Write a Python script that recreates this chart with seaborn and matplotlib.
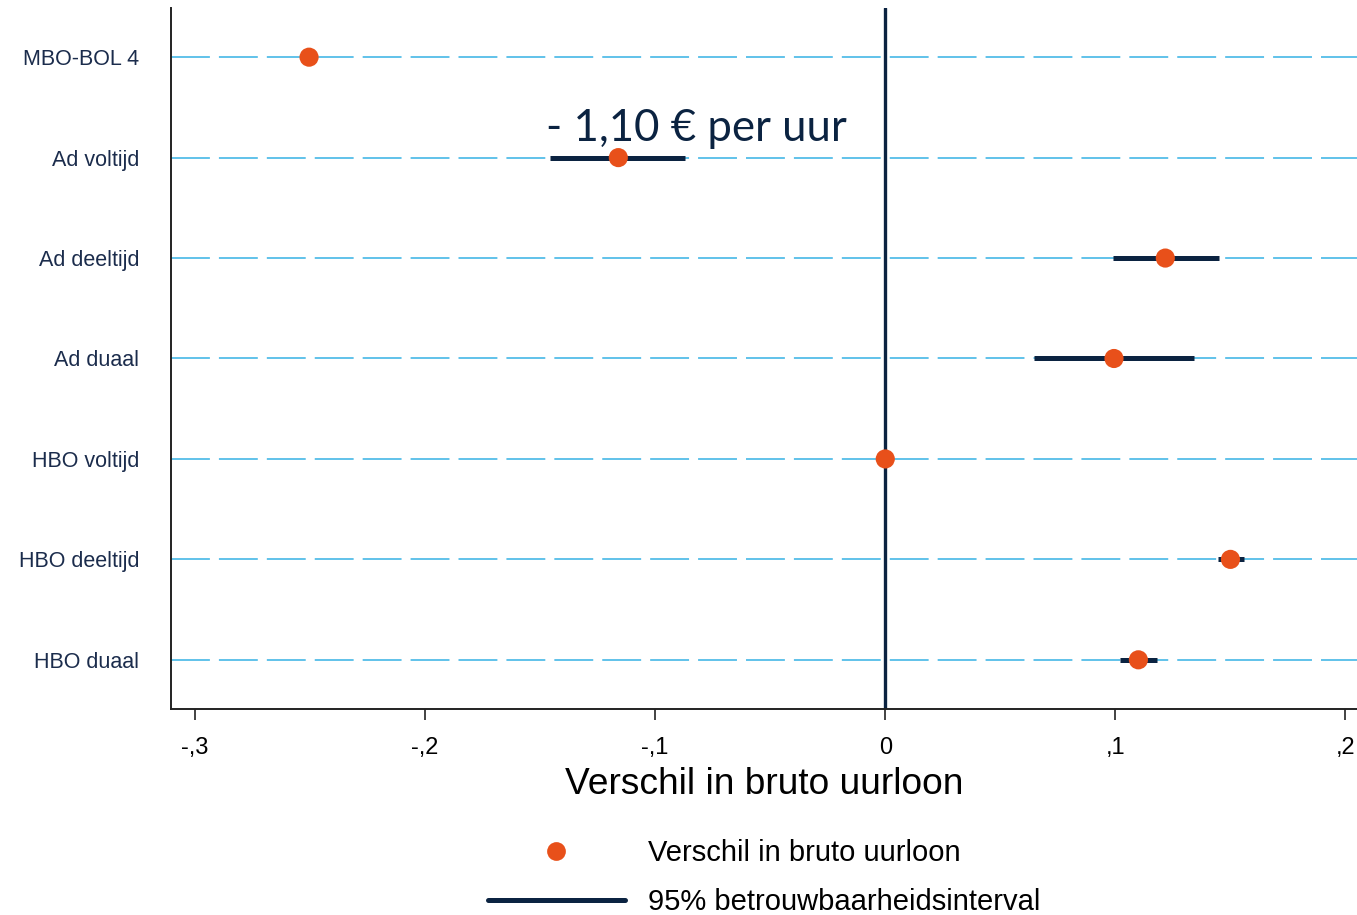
import matplotlib
matplotlib.use("Agg")
import matplotlib.pyplot as plt
import seaborn as sns
import pandas as pd
from matplotlib.lines import Line2D

categories = ["MBO-BOL 4", "Ad voltijd", "Ad deeltijd", "Ad duaal",
              "HBO voltijd", "HBO deeltijd", "HBO duaal"]
estimates = [-0.2504, -0.116, 0.1217, 0.0994, 0.0, 0.150, 0.110]
ci_low = [-0.254, -0.1457, 0.0991, 0.0645, 0.0, 0.1445, 0.102]
ci_high = [-0.247, -0.087, 0.1452, 0.134, 0.0, 0.1557, 0.1183]
xticks = [-0.3, -0.2, -0.1, 0.0, 0.1, 0.2]
xtick_labels = ["-,3", "-,2", "-,1", "0", ",1", ",2"]

navy = "#0b2341"
orange = "#e8501a"
gridblue = "#35b2e4"

df = pd.DataFrame({"cat": categories, "est": estimates, "lo": ci_low, "hi": ci_high})

sns.set_style("white")
plt.rcParams["font.family"] = ["Liberation Sans", "DejaVu Sans"]
plt.rcParams["lines.scale_dashes"] = False

fig = plt.figure(figsize=(13.57, 9.15), dpi=100)
ax = fig.add_axes([0.126, 0.2251, 0.874, 0.7662])

ypos = list(range(len(categories)))

# dashed guide lines per category
for y in ypos:
    ax.axhline(y, color=gridblue, lw=1.1, ls=(0, (28, 6.5)), zorder=1)

ax.axvline(0, color=navy, lw=2.4, zorder=2)

# confidence intervals
ax.hlines(ypos, df["lo"], df["hi"], color=navy, lw=3.6, zorder=3)

sns.scatterplot(x=df["est"], y=ypos, ax=ax, color=orange, s=190,
                edgecolor="none", zorder=4, legend=False)

ax.set_xlim(-0.3104, 0.205)
ax.set_ylim(6.49, -0.49)
ax.set_yticks(ypos)
ax.set_yticklabels(categories, fontsize=15.5, color="#1b2c4c")
ax.tick_params(axis="y", length=0, pad=23)
ax.set_xticks(xticks)
ax.set_xticklabels(xtick_labels, fontsize=17, color="black")
ax.tick_params(axis="x", bottom=True, length=8, width=1.2, color="#222222",
               pad=12, direction="out")
ax.set_xlabel("Verschil in bruto uurloon", fontsize=26.7, labelpad=6, color="black")
ax.set_ylabel("")

for side in ["top", "right"]:
    ax.spines[side].set_visible(False)
for side in ["left", "bottom"]:
    ax.spines[side].set_color("#222222")
    ax.spines[side].set_linewidth(1.4)

ax.text(-0.082, 0.71, "- 1,10 € per uur", fontsize=31.5, color=navy,
        ha="center", va="center", family=["Lato", "DejaVu Sans"])

handles = [
    Line2D([0], [0], marker="o", color="none", markerfacecolor=orange,
           markeredgecolor="none", markersize=13.5),
    Line2D([0], [0], color=navy, lw=3.6),
]
fig.legend(handles, ["Verschil in bruto uurloon", "95% betrouwbaarheidsinterval"],
           loc="center", bbox_to_anchor=(0.563, 0.041), frameon=False,
           fontsize=21, handlelength=4.7, handletextpad=0.8, labelspacing=0.73,
           labelcolor="black")

fig.savefig("out.png", dpi=100)
